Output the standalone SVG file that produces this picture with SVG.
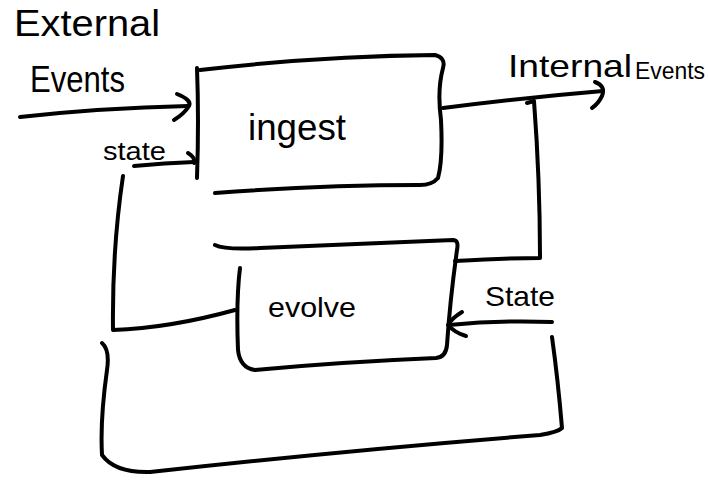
<svg xmlns="http://www.w3.org/2000/svg" width="708" height="484" viewBox="0 0 708 484">
<style>
.s{fill:none;stroke:#000;stroke-width:4;stroke-linecap:round;stroke-linejoin:round}
.t{font-family:"Liberation Sans",Arial,sans-serif;fill:#000}
</style>
<rect width="708" height="484" fill="#fff"/>
<g id="ingest">
<path class="s" d="M197,68 Q199,120 197,178"/>
<path class="s" d="M200,70 Q320,56 435,55 Q446,58 443,68 Q437,90 441,120 Q443,160 438,178 Q432,185 420,185 Q320,185 215,193"/>
<text class="t" x="248" y="140" font-size="36" textLength="98" lengthAdjust="spacingAndGlyphs">ingest</text>
</g>
<g id="evolve">
<path class="s" d="M215,245 Q225,250 260,248 Q360,244 453,240 Q459,240 457,250 Q450,300 447,345 Q446,357 436,358 Q340,362 255,370 Q240,368 238,350 Q236,300 240,268"/>
<text class="t" x="268" y="317" font-size="28" textLength="88" lengthAdjust="spacingAndGlyphs">evolve</text>
</g>
<g id="connectors">
<path class="s" d="M20,117 Q100,108 188,106"/>
<path class="s" d="M177,94 Q192,100 189,106 Q184,114 174,120"/>
<path class="s" d="M134,166 Q165,163 194,162"/>
<path class="s" d="M188,153 Q196,158 194,163"/>
<path class="s" d="M443,108 Q520,98 603,91"/>
<path class="s" d="M595,82 Q606,86 602,96 Q598,104 592,108"/>
<path class="s" d="M527,103 L534,101 Q540,180 540,258 Q510,258 455,261"/>
<path class="s" d="M123,176 Q112,250 113,330 Q170,328 235,310"/>
<path class="s" d="M552,322 Q500,320 449,325"/>
<path class="s" d="M462,312 Q452,318 448,325 Q455,333 466,336"/>
<path class="s" d="M102,343 Q110,350 107,370 Q100,420 102,455 Q115,473 150,472 Q350,450 540,435 Q558,432 562,428 Q558,380 552,337"/>
</g>
<g id="labels">
<text class="t" x="14" y="36" font-size="36" textLength="146" lengthAdjust="spacingAndGlyphs">External</text>
<text class="t" x="30" y="92" font-size="36" textLength="95" lengthAdjust="spacingAndGlyphs">Events</text>
<text class="t" x="103" y="160" font-size="26" textLength="63" lengthAdjust="spacingAndGlyphs">state</text>
<text class="t" x="508" y="77" font-size="32" textLength="124" lengthAdjust="spacingAndGlyphs">Internal</text>
<text class="t" x="635" y="79" font-size="24" textLength="70" lengthAdjust="spacingAndGlyphs">Events</text>
<text class="t" x="485" y="306" font-size="28" textLength="70" lengthAdjust="spacingAndGlyphs">State</text>
</g>
</svg>
